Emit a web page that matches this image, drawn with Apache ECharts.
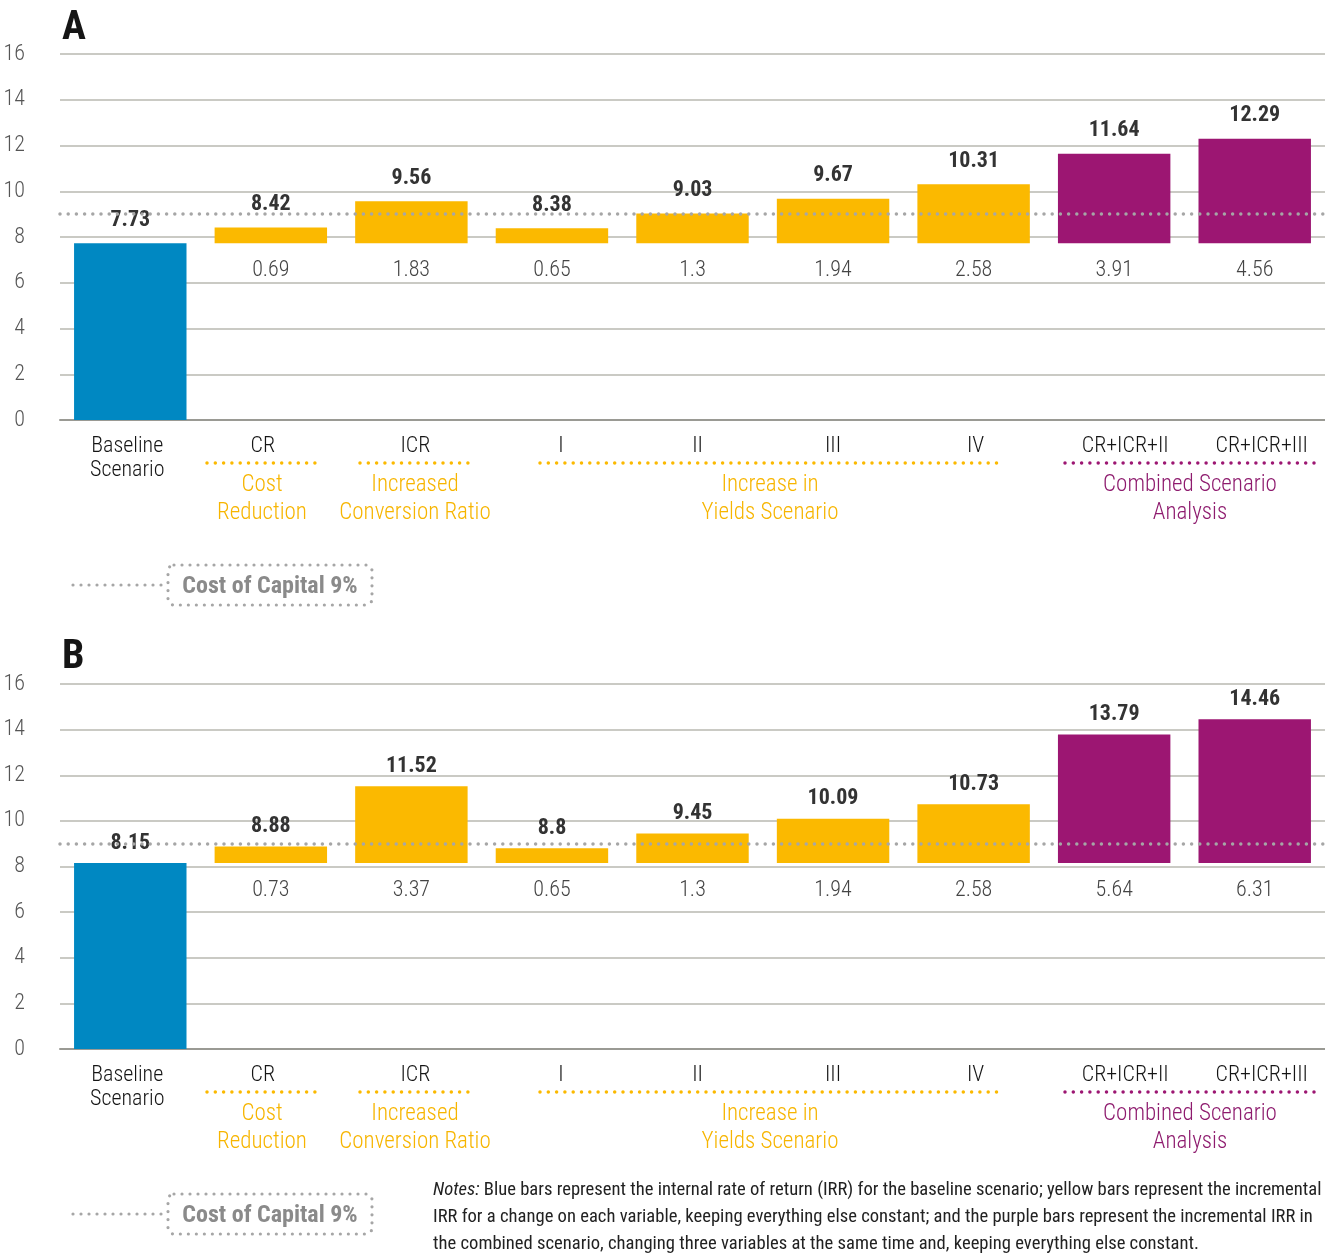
<!DOCTYPE html>
<html>
<head>
<meta charset="utf-8">
<script src="https://cdn.jsdelivr.net/npm/echarts@6/dist/echarts.min.js"></script>
<style>
  html, body { margin: 0; padding: 0; background: #fff; }
  #chart { width: 1325px; height: 1255px; }
</style>
</head>
<body>
<div id="chart"></div>
<script>
// Scenario categories (x axis)
const categories = ['Baseline\nScenario', 'CR', 'ICR', 'I', 'II', 'III', 'IV', 'CR+ICR+II', 'CR+ICR+III'];
// Which colour group each category belongs to
const groups = ['baseline', 'single', 'single', 'single', 'single', 'single', 'single', 'combined', 'combined'];

// Panel A: baseline IRR and incremental IRR for each scenario
const baselineA = 7.73;
const incrementsA = [0.69, 1.83, 0.65, 1.3, 1.94, 2.58, 3.91, 4.56];

// Panel B: baseline IRR and incremental IRR for each scenario
const baselineB = 8.15;
const incrementsB = [0.73, 3.37, 0.65, 1.3, 1.94, 2.58, 5.64, 6.31];

// Cost of capital reference line (%)
const costOfCapital = 9;

// Value axis range
const yMin = 0, yMax = 16, yStep = 2;

const FONT = "'Roboto Condensed', 'Liberation Sans Narrow', 'DejaVu Sans Condensed', 'Roboto', sans-serif";
const COLORS = { baseline: '#0088c2', single: '#fbb900', combined: '#9c1672' };
const YELLOW_TEXT = '#f7b500';
const PURPLE_TEXT = '#8e1b6e';

// Small horizontal nudges (px) for the category captions
const labelShift = [-3, -8, 4, 9, 5, 0, 2, 11, 7];

function fmt(v) { return String(Number(v.toFixed(2))); }

const panels = [
  { letter: 'A', baseline: baselineA, increments: incrementsA, top: 54, height: 366, dy: 0, topDist: 12 },
  { letter: 'B', baseline: baselineB, increments: incrementsB, top: 684, height: 365, dy: 629, topDist: 9 }
];

const grids = [], xAxes = [], yAxes = [], series = [], graphics = [];

panels.forEach((p, gi) => {
  grids.push({ left: 60, right: 0, top: p.top, height: p.height });

  xAxes.push({
    type: 'category', gridIndex: gi,
    data: categories.map((c, i) => {
      const s = labelShift[i];
      return {
        value: c,
        textStyle: { padding: s >= 0 ? [0, 0, 0, 2 * s] : [0, -2 * s, 0, 0] }
      };
    }),
    axisTick: { show: false },
    axisLine: { lineStyle: { color: '#9a9a94', width: 2 } },
    axisLabel: { color: '#151515', fontSize: 22, fontWeight: 300, lineHeight: 24, margin: 14, fontFamily: FONT, interval: 0 }
  });

  yAxes.push({
    type: 'value', gridIndex: gi, min: yMin, max: yMax, interval: yStep,
    axisLine: { show: false }, axisTick: { show: false },
    axisLabel: { color: '#555', fontSize: 22, fontWeight: 300, margin: 35, fontFamily: FONT },
    splitLine: { lineStyle: { color: '#b8b8b0', width: 1.5 } }
  });

  // Invisible offset so that scenario bars start at the baseline IRR
  const baseData = categories.map((c, i) => i === 0 ? 0 : p.baseline);
  // Visible part: baseline itself, then each scenario's increment
  const valueData = categories.map((c, i) => ({
    value: i === 0 ? p.baseline : p.increments[i - 1],
    itemStyle: { color: COLORS[groups[i]] }
  }));

  series.push({
    type: 'bar', xAxisIndex: gi, yAxisIndex: gi, stack: 'w' + gi,
    barWidth: '80%', silent: true,
    data: baseData,
    itemStyle: { color: 'transparent' },
    label: {
      show: true, position: 'insideTop', distance: 16.5,
      color: '#444', fontSize: 22, fontWeight: 300, fontFamily: FONT,
      formatter: (d) => d.dataIndex === 0 ? '' : String(p.increments[d.dataIndex - 1])
    }
  });

  series.push({
    type: 'bar', xAxisIndex: gi, yAxisIndex: gi, stack: 'w' + gi,
    barWidth: '80%', silent: true,
    data: valueData,
    label: {
      show: true, position: 'top', distance: p.topDist,
      color: '#333', fontSize: 22, fontWeight: 'bold', fontFamily: FONT,
      formatter: (d) => d.dataIndex === 0 ? fmt(p.baseline) : fmt(p.baseline + p.increments[d.dataIndex - 1])
    },
    markLine: {
      silent: true, symbol: ['none', 'none'], z: 10,
      label: { show: false },
      lineStyle: { color: '#a6a6a6', width: 3.5, type: [0, 8.2], cap: 'round', opacity: 1 },
      data: [{ yAxis: costOfCapital }]
    }
  });

  const dy = p.dy;

  // Panel letter
  graphics.push({
    type: 'text', left: 62, top: 9 + dy,
    style: { text: p.letter, font: 'bold 40px ' + FONT, fill: '#151515' }
  });

  // Group brackets below the category labels
  const brackets = [
    { x1: 207, x2: 318, color: COLORS.single, cx: 262, text: 'Cost\nReduction', tc: YELLOW_TEXT },
    { x1: 360, x2: 470, color: COLORS.single, cx: 415, text: 'Increased\nConversion Ratio', tc: YELLOW_TEXT },
    { x1: 540, x2: 998, color: COLORS.single, cx: 770, text: 'Increase in\nYields Scenario', tc: YELLOW_TEXT },
    { x1: 1065, x2: 1315, color: COLORS.combined, cx: 1190, text: 'Combined Scenario\nAnalysis', tc: PURPLE_TEXT }
  ];
  brackets.forEach(b => {
    graphics.push({
      type: 'line', silent: true,
      shape: { x1: b.x1, y1: 463 + dy, x2: b.x2, y2: 463 + dy },
      style: { stroke: b.color, lineWidth: 3.5, lineDash: [0, 8.3], lineCap: 'round' }
    });
    graphics.push({
      type: 'text', silent: true, x: b.cx, y: 471 + dy,
      style: {
        text: b.text, font: '300 23px ' + FONT, fill: b.tc,
        textAlign: 'center', textVerticalAlign: 'top', lineHeight: 28
      }
    });
  });

  // Cost of capital key
  graphics.push({
    type: 'line', silent: true,
    shape: { x1: 73, y1: 585 + dy, x2: 164, y2: 585 + dy },
    style: { stroke: '#a6a6a6', lineWidth: 3.2, lineDash: [0, 8], lineCap: 'round' }
  });
  graphics.push({
    type: 'rect', silent: true,
    shape: { x: 168, y: 565 + dy, width: 204, height: 40, r: 6 },
    style: { fill: 'none', stroke: '#a6a6a6', lineWidth: 3.2, lineDash: [0, 8], lineCap: 'round' }
  });
  graphics.push({
    type: 'text', silent: true, x: 270, y: 587 + dy,
    style: {
      text: 'Cost of Capital 9%', font: 'bold 24px ' + FONT, fill: '#8a8a8a',
      textAlign: 'center', textVerticalAlign: 'middle'
    }
  });
});

// Footnote
graphics.push({
  type: 'text', silent: true, x: 433, y: 1177,
  style: {
    text: '{i|Notes:} Blue bars represent the internal rate of return (IRR) for the baseline scenario; yellow bars represent the incremental\n' +
          'IRR for a change on each variable, keeping everything else constant; and the purple bars represent the incremental IRR in\n' +
          'the combined scenario, changing three variables at the same time and, keeping everything else constant.',
    font: '18.6px ' + FONT, fill: '#222', lineHeight: 27,
    rich: { i: { font: 'italic 18.6px ' + FONT, fill: '#222' } }
  }
});

const chart = echarts.init(document.getElementById('chart'));
chart.setOption({
  animation: false,
  backgroundColor: '#fff',
  textStyle: { fontFamily: FONT },
  grid: grids, xAxis: xAxes, yAxis: yAxes, series: series,
  graphic: graphics
});
</script>
</body>
</html>
